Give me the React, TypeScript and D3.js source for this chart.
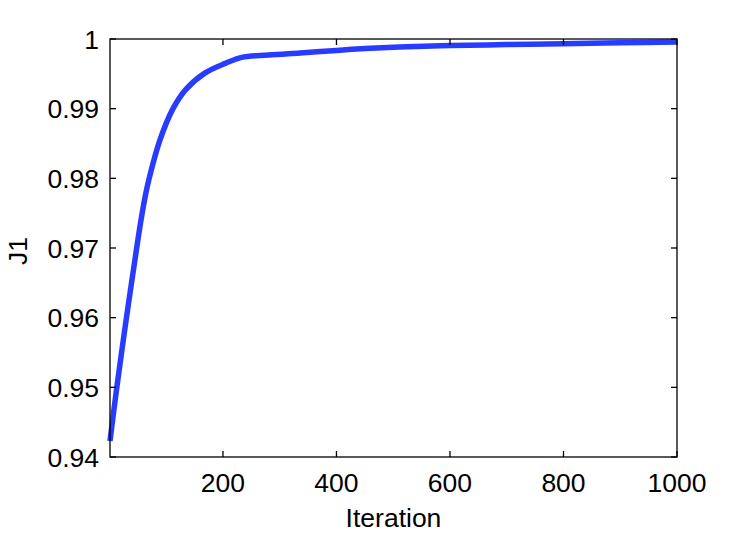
import React from "react";
import * as d3 from "d3";

const iterations = [1, 13, 30, 48, 56, 63, 70, 89, 112, 134, 168, 204, 233, 280, 336, 400, 450, 511, 600, 700, 800, 900, 1000];
const j1Values = [0.9423, 0.95, 0.96, 0.97, 0.9742, 0.9774, 0.98, 0.9855, 0.99, 0.9927, 0.9951, 0.9965, 0.99737, 0.9977, 0.998, 0.99835, 0.99862, 0.99885, 0.99905, 0.9992, 0.99932, 0.99945, 0.99958];
const xTicks = [200, 400, 600, 800, 1000];
const yTicks = [0.94, 0.95, 0.96, 0.97, 0.98, 0.99, 1];
const yTickLabels = ["0.94", "0.95", "0.96", "0.97", "0.98", "0.99", "1"];

const W = 747;
const H = 534;
const left = 110;
const right = 677;
const top = 39;
const bottom = 457;
const font = "'Liberation Sans', Arial, Helvetica, sans-serif";

export default function App() {
  const x = d3.scaleLinear().domain([1, 1000]).range([left, right]);
  const y = d3.scaleLinear().domain([0.94, 1]).range([bottom, top]);
  const data = iterations.map((it, i) => [it, j1Values[i]] as [number, number]);
  const line = d3
    .line<[number, number]>()
    .x((d) => x(d[0]))
    .y((d) => y(d[1]))
    .curve(d3.curveCatmullRom.alpha(0.5));
  const tl = 6;
  return (
    <svg width={W} height={H} style={{ position: "absolute", left: 0, top: 0, background: "#fff" }}>
      <rect x={0} y={0} width={W} height={H} fill="#fff" />
      <path d={line(data) || ""} fill="none" stroke="rgb(40,60,255)" strokeWidth={5.5} strokeLinejoin="round" strokeLinecap="butt" />
      <rect x={left} y={top} width={right - left} height={bottom - top} fill="none" stroke="#000" strokeWidth={1.3} />
      {xTicks.map((t) => (
        <g key={"x" + t}>
          <line x1={x(t)} x2={x(t)} y1={bottom} y2={bottom - tl} stroke="#000" strokeWidth={1.3} />
          <line x1={x(t)} x2={x(t)} y1={top} y2={top + tl} stroke="#000" strokeWidth={1.3} />
          <text x={x(t)} y={492} textAnchor="middle" fontFamily={font} fontSize={26.5} fill="#000">
            {t}
          </text>
        </g>
      ))}
      {yTicks.map((t, i) => (
        <g key={"y" + t}>
          <line x1={left} x2={left + tl} y1={y(t)} y2={y(t)} stroke="#000" strokeWidth={1.3} />
          <line x1={right} x2={right - tl} y1={y(t)} y2={y(t)} stroke="#000" strokeWidth={1.3} />
          <text x={99} y={y(t)} dy="0.36em" textAnchor="end" fontFamily={font} fontSize={26.5} fill="#000">
            {yTickLabels[i]}
          </text>
        </g>
      ))}
      <text x={(left + right) / 2} y={527} textAnchor="middle" fontFamily={font} fontSize={26.5} fill="#000">
        Iteration
      </text>
      <text transform={`translate(27, ${(top + bottom) / 2 + 3}) rotate(-90)`} textAnchor="middle" fontFamily={font} fontSize={26.5} fill="#000">
        J1
      </text>
    </svg>
  );
}
